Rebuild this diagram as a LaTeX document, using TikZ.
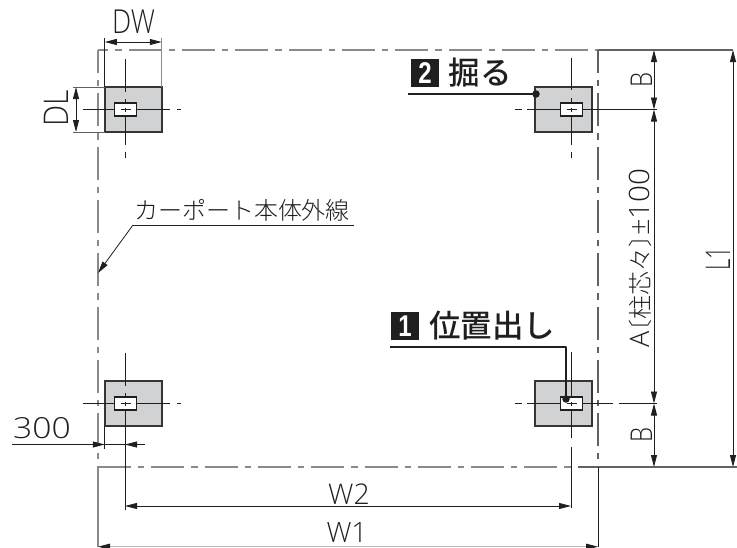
\documentclass[tikz,border=0pt]{standalone}
\usepackage{fontspec}
\usepackage{graphicx}
\setmainfont{Open Sans Light}
\newfontfamily\cjkf{Noto Sans CJK JP Light}
\newfontfamily\cjkh{Noto Sans CJK JP Medium}
\newfontfamily\boldf{Liberation Sans Bold}
\usetikzlibrary{arrows.meta}
\definecolor{ink}{HTML}{1F1F1F}
\definecolor{txt}{HTML}{202020}
\definecolor{outl}{HTML}{8A8A8A}
\definecolor{padg}{HTML}{D0D2D3}
\newcommand{\sz}[3]{\scalebox{#2}[1]{\fontsize{#1}{#1}\selectfont #3}}
\tikzset{
  thinl/.style={draw=ink,line width=.9pt},
  outline/.style={draw=outl,line width=1.5pt,dash pattern=on 33pt off 7pt on 6.3pt off 7pt},
  outlineb/.style={draw=ink!70,line width=1.1pt,dash pattern=on 33pt off 7pt on 6.3pt off 7pt},
  dim/.style={thinl,{Triangle[length=12pt,width=6pt]}-{Triangle[length=12pt,width=6pt]}},
  dimend/.style={thinl,-{Triangle[length=12pt,width=6pt]}},
  padbox/.style={draw=ink!90,line width=1.5pt,fill=padg,minimum width=57pt,minimum height=45pt,inner sep=0pt,outer sep=0pt},
  slot/.style={draw=ink,line width=1.5pt,fill=white,minimum width=22pt,minimum height=13pt,inner sep=0pt,outer sep=0pt},
  lab/.style={inner sep=0pt,text=txt},
  leader/.style={draw=ink,line width=2.4pt},
  dot/.style={circle,fill=ink,minimum size=7.5pt,inner sep=0pt},
  numsq/.style={fill=ink,text=white,minimum width=28pt,minimum height=28pt,inner sep=0pt},
  head/.style={inner sep=0pt,text=ink,font=\fontsize{31.5}{32}\selectfont\cjkh},
}
\begin{document}
\begin{tikzpicture}[x=1pt,y=-1pt]
\useasboundingbox[fill=white] (0,0) rectangle (737,547);
% corners of the outline
\coordinate (TL) at (98,50);
\coordinate (TR) at (598,50);
\coordinate (BL) at (98,467);
\coordinate (BR) at (598,467);
% pads
\node[padbox] (p1) at (133.25,109.5) {};
\node[padbox] (p2) at (563.5,109.5) {};
\node[padbox] (p3) at (133.25,403.5) {};
\node[padbox] (p4) at (563.5,403.5) {};
% outline
\draw[outline,dash phase=22.6pt] (TL) -- (TR);
\draw[outline,dash phase=10pt] (TL) -- (BL);
\draw[outlineb,dash phase=10pt] (TR) -- (BR);
\draw[outline] (BL) -- (578,467);
% extensions
\draw[draw=ink!70,line width=1.1pt] (TR) -- (733,50);
\draw[draw=ink!70,line width=1.1pt] (578,467) -- (737,467);
\draw[draw=outl,line width=1.5pt] (BL) -- (98,547);
\draw[thinl] (BR) -- (598,547);
% centre lines
\draw[thinl] (125,59)--(125,92) (125,99)--(125,145) (125,152)--(125,158);
\draw[thinl] (83,109.5)--(170,109.5) (177,109.5)--(181,109.5);
\draw[thinl] (571,58)--(571,90) (571,98)--(571,145) (571,152)--(571,158);
\draw[thinl] (515,109.5)--(522,109.5) (527,109.5)--(657,109.5);
\draw[thinl] (125,353)--(125,386) (125,393)--(125,510);
\draw[thinl] (83,403.5)--(170,403.5) (177,403.5)--(181,403.5);
\draw[thinl] (571,352)--(571,438) (571,447)--(571,508);
\draw[thinl] (515,403.5)--(522,403.5) (527,403.5)--(613,403.5) (619,403.5)--(657,403.5);
% slots
\node[slot] (s1) at (125.5,109.5) {};
\node[slot] (s2) at (571.5,109.5) {};
\node[slot] (s3) at (125.5,403.5) {};
\node[slot] (s4) at (571.5,403.5) {};
\foreach \n in {s1,s2,s3,s4}{
  \draw[thinl] ([xshift=-5pt]\n.center) -- ([xshift=5pt]\n.center);
  \draw[thinl] ([yshift=-2pt]\n.center) -- ([yshift=2pt]\n.center);
}
% DW / DL
\draw[thinl] (p1.north west) -- (104.75,38);
\draw[draw=outl,line width=1pt] (p1.north east) -- (161.75,38);
\draw[dim] (104.75,42) -- (161.75,42);
\draw[draw=ink!70,line width=.9pt] (p1.north west) -- (73,87);
\draw[draw=ink!70,line width=.9pt] (p1.south west) -- (73,132);
\draw[dim] (76,87) -- (76,132);
\node[lab] (tDW) at (133.5,22) {\sz{33}{.82}{DW}};
\node[lab,rotate=90] (tDL) at (56.5,108) {\sz{34}{.88}{DL}};
% right-hand dimensions
\coordinate (ra) at (654,50);
\coordinate (rb) at (654,109.5);
\coordinate (rc) at (654,403.5);
\coordinate (rd) at (654,467);
\draw[dim] (ra) -- (rb);
\draw[dim] (rb) -- (rc);
\draw[dim] (rc) -- (rd);
\draw[dim] (733,50) -- (733,467);
\node[lab,rotate=90] (tB1) at (641.5,80) {\sz{30}{.8}{B}};
\node[lab,rotate=90] (tB2) at (641.5,435) {\sz{30}{.8}{B}};
\node[lab,rotate=90,anchor=base west] (tA) at (649,348) {\fontsize{27}{27}\selectfont A{\cjkf\fontsize{24}{24}\selectfont\kern-12pt 〔柱芯々〕\kern-12pt}{\fontsize{29}{29}\selectfont ±}\sz{28}{1.06}{100}};
\node[lab,rotate=90] (tL) at (718,258.5) {\sz{34}{.65}{L1}};
% 300
\draw[thinl] (12,444.5) -- (145,444.5);
\draw[thinl] (p3.south west) -- (104.75,449);
\draw[thinl,-{Triangle[length=12pt,width=6pt]}] (92,444.5) -- (104.75,444.5);
\draw[thinl,-{Triangle[length=12pt,width=6pt]}] (138,444.5) -- (125,444.5);
\node[lab] (t300) at (42,428) {\sz{29}{1.16}{300}};
% W dims
\draw[dim] (125,506) -- (571,506);
\draw[draw=ink!30,line width=1pt,{Triangle[length=12pt,width=6pt,color=ink]}-{Triangle[length=12pt,width=6pt,color=ink]}] (98,546.7) -- (598,546.7);
\node[lab] (tW2) at (349,494) {\sz{28.5}{1}{W2}};
\node[lab] (tW1) at (347,532.5) {\sz{28}{1}{W1}};
% body outline note
\node[lab,anchor=base,font=\cjkf] (tnote) at (242,219) {\fontsize{24}{24}\selectfont カーポート本体外線};
\coordinate (nu) at (133,225);
\coordinate (ne) at (354,225);
\coordinate (nt) at (98,273);
\draw[thinl] (ne) -- (nu);
\draw[dimend,line width=.8pt] (nu) -- (nt);
% callouts
\node[numsq] (n2) at (425,73) {\boldf\sz{30}{.8}{2}};
\node[head] (h2) at (480,73) {掘る};
\node[numsq] (n1) at (405,326) {\boldf\sz{30}{.8}{1}};
\node[head] (h1) at (492,326) {位置出し};
\node[dot] (d2) at (536,94) {};
\node[dot] (d1) at (566,399) {};
\coordinate (l2) at (408,94);
\coordinate (l1) at (390,347);
\draw[leader] (l2) -- (d2.center);
\draw[leader,line join=round] (l1) -| (d1.center);
\end{tikzpicture}
\end{document}
